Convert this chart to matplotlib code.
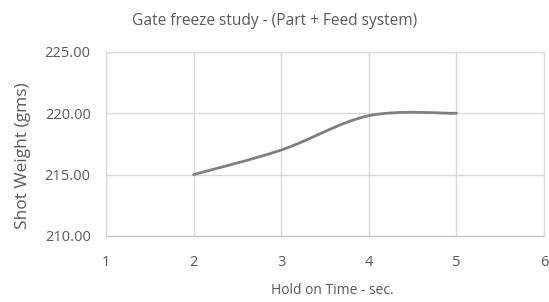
import matplotlib
matplotlib.use('Agg')
import matplotlib.pyplot as plt
from matplotlib.path import Path
import matplotlib.patches as patches
import numpy as np

# --- data ---
hold_time = [2, 3, 4, 5]
shot_weight = [215.0, 217.0, 219.8, 220.0]
x_ticks = [1, 2, 3, 4, 5, 6]
y_ticks = [210, 215, 220, 225]

plt.rcParams['font.family'] = ['Open Sans', 'DejaVu Sans']
TXT = '#595959'
GRID = '#d9d9d9'

W, H = 549, 302
fig = plt.figure(figsize=(W / 100, H / 100), dpi=100)
ax = fig.add_axes([0.193, 0.219, 0.798, 0.609])

# Excel-style smoothed line: Catmull-Rom segments as cubic Beziers
px = np.array(hold_time, dtype=float)
py = np.array(shot_weight, dtype=float)
ext_x = np.concatenate([[px[0]], px, [px[-1]]])
ext_y = np.concatenate([[py[0]], py, [py[-1]]])
verts = [(px[0], py[0])]
codes = [Path.MOVETO]
for i in range(len(px) - 1):
    p0 = np.array([ext_x[i], ext_y[i]])
    p1 = np.array([ext_x[i + 1], ext_y[i + 1]])
    p2 = np.array([ext_x[i + 2], ext_y[i + 2]])
    p3 = np.array([ext_x[i + 3], ext_y[i + 3]])
    c1 = p1 + (p2 - p0) / 6
    c2 = p2 - (p3 - p1) / 6
    verts += [tuple(c1), tuple(c2), tuple(p2)]
    codes += [Path.CURVE4] * 3
ax.add_patch(patches.PathPatch(Path(verts, codes), fill=False,
                               edgecolor='#7f7f7f', lw=2, capstyle='round'))

ax.set_xlim(1, 6)
ax.set_ylim(210, 225)
ax.set_xticks(x_ticks)
ax.set_yticks(y_ticks)
ax.set_yticklabels([f'{v:.2f}' for v in y_ticks])
ax.grid(True, color=GRID, lw=1)
ax.set_axisbelow(True)
for s in ax.spines.values():
    s.set_color(GRID)
ax.spines['bottom'].set_color('#bfbfbf')
ax.tick_params(length=0, colors=TXT, labelsize=10.5)
ax.tick_params(axis='x', pad=14)
ax.tick_params(axis='y', pad=11)

# titles placed in figure pixels like the Excel export
fig.text(0.5, 1 - 21 / H, 'Gate freeze study - (Part + Feed system)', color=TXT,
         fontsize=11.2, ha='center', va='center')
fig.text(332 / W, 1 - 291 / H, 'Hold on Time - sec.', color=TXT,
         fontsize=10, ha='center', va='center')
fig.text(23 / W, 1 - 156 / H, 'Shot Weight (gms)', color=TXT,
         fontsize=12.5, ha='center', va='center', rotation=90)

fig.savefig('out.png', dpi=100)
